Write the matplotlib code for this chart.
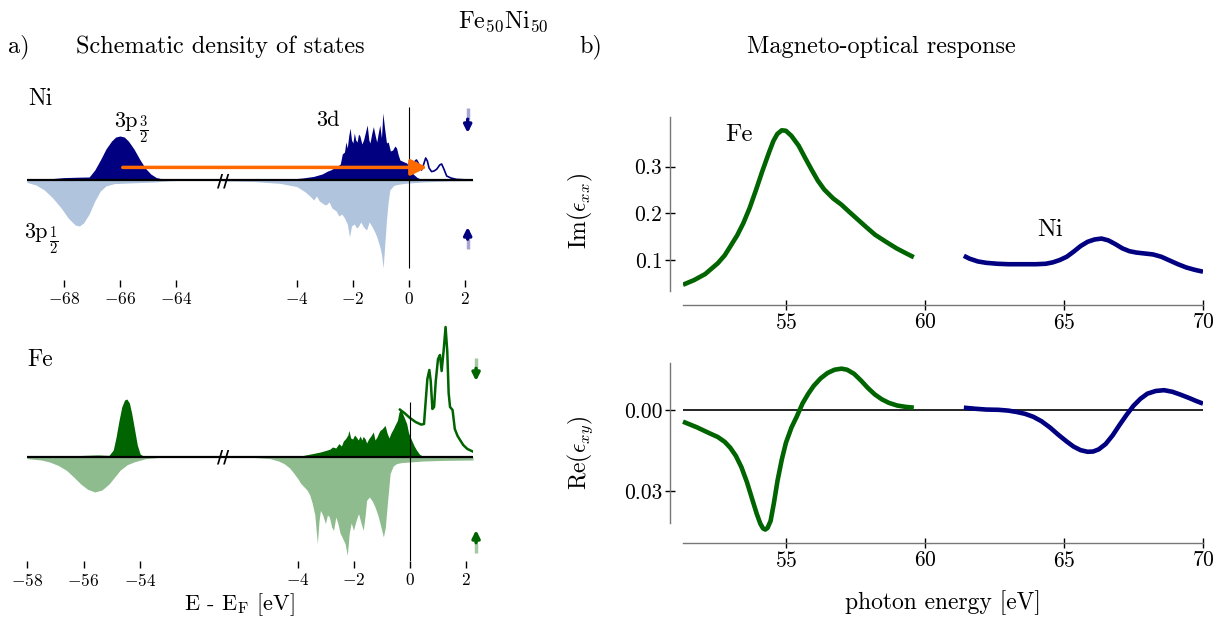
import matplotlib
matplotlib.use('Agg')
import matplotlib.pyplot as plt
from matplotlib.patches import ConnectionPatch

plt.rcParams['font.family'] = 'serif'
plt.rcParams['font.serif'] = ['cmr10']
plt.rcParams['mathtext.fontset'] = 'cm'
plt.rcParams['axes.formatter.use_mathtext'] = True

# ---- schematic DOS, Ni (core 3p and valence 3d) ----
ni_core_E_dn = [-69.32, -68.6, -68.0, -67.5, -67.1, -66.9, -66.7, -66.5, -66.3, -66.15, -66.0,
                -65.85, -65.7, -65.5, -65.3, -65.1, -64.9, -64.7, -64.4, -63.8, -62.32]
ni_core_dn = [0.0, 0.05, 0.12, 0.14, 0.15, 0.5, 1.0, 1.55, 1.95, 2.15, 2.2,
              2.15, 1.95, 1.55, 1.05, 0.6, 0.3, 0.12, 0.03, 0.0, 0.0]
ni_core_E_up = [-69.32, -69.0, -68.7, -68.4, -68.1, -67.85, -67.6, -67.45, -67.3, -67.1, -66.9,
                -66.7, -66.5, -66.2, -65.5, -64.8, -64.2, -63.5, -62.32]
ni_core_up = [-0.12, -0.25, -0.5, -0.9, -1.4, -1.9, -2.25, -2.3, -2.15, -1.7, -1.05,
              -0.55, -0.3, -0.18, -0.14, -0.1, -0.04, 0.0, 0.0]

ni_val_E_dn = [-6.64, -5.0, -4.2, -3.8, -3.4, -3.1, -2.9, -2.8, -2.7, -2.55, -2.45, -2.38, -2.3,
               -2.25, -2.2, -2.15, -2.1, -2.05, -2.0, -1.95, -1.9, -1.85, -1.8, -1.75, -1.68,
               -1.62, -1.55, -1.49, -1.43, -1.39, -1.33, -1.27, -1.2, -1.15, -1.1, -1.04, -0.98,
               -0.93, -0.87, -0.8, -0.74, -0.66, -0.58, -0.5, -0.44, -0.38, -0.32, -0.2, -0.08,
               0.05, 0.15, 0.3, 0.45, 0.7]
ni_val_dn = [0.0, 0.02, 0.05, 0.1, 0.18, 0.3, 0.45, 0.5, 0.58, 0.7, 0.8, 1.3, 1.4,
             1.9, 1.6, 2.2, 2.6, 2.0, 1.85, 2.35, 2.0, 1.9, 2.3, 2.2, 1.8,
             2.0, 2.4, 2.75, 2.0, 1.85, 2.3, 2.67, 2.2, 1.9, 2.3, 2.75, 2.1,
             3.35, 2.6, 1.85, 1.9, 1.45, 1.5, 1.7, 1.6, 1.25, 1.0, 0.92, 0.85,
             0.55, 0.3, 0.12, 0.04, 0.0]
ni_val_E_up = [-6.64, -5.5, -4.6, -4.3, -4.0, -3.7, -3.5, -3.4, -3.3, -3.2, -3.05, -2.96, -2.85,
               -2.75, -2.6, -2.5, -2.4, -2.3, -2.2, -2.12, -2.05, -1.95, -1.87, -1.81, -1.72,
               -1.62, -1.51, -1.42, -1.33, -1.22, -1.15, -1.04, -0.98, -0.92, -0.87, -0.8, -0.74,
               -0.68, -0.55, -0.44, -0.2, 0.0, 0.5, 1.5, 2.29]
ni_val_up = [-0.05, -0.08, -0.17, -0.25, -0.33, -0.6, -0.85, -1.0, -0.8, -1.05, -1.2, -1.25, -1.1,
             -1.4, -1.55, -1.8, -1.7, -1.9, -2.2, -2.85, -2.3, -2.2, -2.4, -2.33, -2.1,
             -2.35, -2.5, -2.1, -2.3, -2.6, -2.83, -3.33, -3.7, -4.4, -3.4, -2.0, -1.1,
             -0.5, -0.28, -0.23, -0.18, -0.15, -0.1, -0.05, -0.04]
ni_empty_E = [0.0, 0.1, 0.2, 0.27, 0.33, 0.4, 0.45, 0.52, 0.6, 0.66, 0.72, 0.81, 0.9, 1.0,
              1.1, 1.17, 1.25, 1.35, 1.5, 1.7, 2.0, 2.29]
ni_empty = [0.8, 0.85, 0.9, 1.0, 0.85, 0.6, 0.5, 0.75, 1.1, 0.95, 0.6, 0.42, 0.45, 0.55,
            0.75, 0.8, 0.55, 0.2, 0.1, 0.03, 0.01, 0.0]

# ---- schematic DOS, Fe ----
fe_core_E_dn = [-58.0, -57.0, -56.0, -55.5, -55.1, -54.95, -54.85, -54.75, -54.65, -54.55, -54.47,
                -54.38, -54.3, -54.2, -54.1, -54.0, -53.85, -53.0, -51.07]
fe_core_dn = [0.0, 0.03, 0.08, 0.1, 0.08, 0.35, 1.0, 1.8, 2.5, 2.85, 2.9,
              2.7, 2.2, 1.4, 0.6, 0.15, 0.02, 0.0, 0.0]
fe_core_E_up = [-58.0, -57.5, -57.2, -56.9, -56.6, -56.35, -56.1, -55.85, -55.6, -55.35, -55.1,
                -54.9, -54.7, -54.45, -54.2, -53.8, -53.3, -51.07]
fe_core_up = [-0.08, -0.15, -0.25, -0.42, -0.67, -1.0, -1.35, -1.62, -1.75, -1.65, -1.35,
              -1.0, -0.65, -0.38, -0.24, -0.08, -0.02, 0.0]

fe_val_E_dn = [-6.68, -5.0, -4.5, -3.95, -3.48, -3.2, -3.0, -2.85, -2.77, -2.65, -2.54, -2.45,
               -2.38, -2.3, -2.22, -2.18, -2.12, -2.05, -1.98, -1.92, -1.85, -1.78, -1.72, -1.67,
               -1.6, -1.55, -1.48, -1.4, -1.31, -1.25, -1.18, -1.12, -1.07, -1.0, -0.94, -0.89,
               -0.82, -0.75, -0.68, -0.6, -0.54, -0.45, -0.4, -0.36, -0.3, -0.2, -0.12, -0.05,
               0.06, 0.15, 0.24, 0.35, 0.5, 0.7, 2.25]
fe_val_dn = [0.0, 0.01, 0.02, 0.04, 0.17, 0.25, 0.33, 0.4, 0.5, 0.45, 0.67, 0.55,
             0.8, 0.92, 1.1, 1.33, 0.95, 0.9, 1.1, 1.0, 0.85, 1.05, 0.85, 1.03,
             0.9, 0.7, 0.9, 1.05, 1.25, 0.85, 1.0, 1.2, 1.33, 1.4, 1.5, 1.58,
             1.2, 0.95, 1.2, 1.4, 1.58, 1.83, 2.2, 2.37, 2.3, 1.95, 1.67, 1.2,
             0.83, 0.55, 0.33, 0.12, 0.03, 0.0, 0.0]
fe_val_E_up = [-6.68, -5.6, -5.0, -4.7, -4.5, -4.3, -4.14, -4.0, -3.9, -3.78, -3.67, -3.58,
               -3.49, -3.4, -3.31, -3.25, -3.2, -3.12, -3.02, -2.95, -2.88, -2.8, -2.73, -2.65,
               -2.58, -2.5, -2.43, -2.32, -2.24, -2.17, -2.1, -2.02, -1.93, -1.84, -1.75, -1.67,
               -1.6, -1.55, -1.45, -1.35, -1.25, -1.15, -1.07, -0.95, -0.88, -0.83, -0.76, -0.71,
               -0.6, -0.48, -0.3, -0.02, 0.5, 1.2, 2.25]
fe_val_up = [0.0, -0.02, -0.08, -0.2, -0.33, -0.55, -0.83, -1.1, -1.33, -1.5, -1.67, -1.9,
             -2.33, -2.9, -4.33, -3.2, -2.67, -2.9, -3.33, -2.9, -3.0, -3.5, -3.67, -3.0,
             -3.3, -3.8, -4.0, -4.33, -4.92, -3.8, -3.3, -3.67, -3.2, -2.83, -3.3, -3.67,
             -2.9, -2.17, -2.0, -2.2, -2.5, -2.9, -3.33, -4.0, -3.5, -2.67, -1.6, -0.83,
             -0.45, -0.33, -0.28, -0.25, -0.2, -0.17, -0.15]
fe_empty_E = [-0.36, -0.2, 0.0, 0.2, 0.4, 0.5, 0.55, 0.62, 0.69, 0.74, 0.8, 0.86, 0.92, 1.0,
              1.07, 1.13, 1.2, 1.27, 1.33, 1.38, 1.43, 1.52, 1.6, 1.7, 1.9, 2.05, 2.25]
fe_empty = [2.37, 2.2, 1.95, 1.75, 1.62, 1.65, 2.6, 3.9, 4.35, 3.8, 2.4, 2.5, 3.8, 4.9,
            5.1, 4.3, 5.3, 6.5, 5.3, 3.2, 2.5, 2.35, 1.4, 1.05, 0.6, 0.4, 0.27]

# ---- magneto-optical response ----
fe_E_im = [51.3, 51.7, 52.1, 52.55, 52.8, 53.0, 53.25, 53.47, 53.7, 53.93, 54.15, 54.39,
           54.55, 54.69, 54.85, 55.0, 55.2, 55.46, 55.7, 55.92, 56.15, 56.38, 56.7, 56.99,
           57.3, 57.6, 57.9, 58.21, 58.6, 58.98, 59.3, 59.6]
fe_im = [0.047, 0.057, 0.07, 0.093, 0.11, 0.129, 0.153, 0.179, 0.212, 0.251, 0.29, 0.330,
         0.355, 0.370, 0.378, 0.377, 0.366, 0.345, 0.318, 0.294, 0.27, 0.251, 0.232, 0.219,
         0.202, 0.186, 0.17, 0.154, 0.139, 0.125, 0.115, 0.106]
ni_E_im = [61.4, 61.6, 61.9, 62.2, 62.6, 63.0, 63.5, 64.0, 64.35, 64.6, 64.85, 65.1, 65.35,
           65.6, 65.85, 66.1, 66.35, 66.6, 66.85, 67.1, 67.35, 67.6, 67.9, 68.2, 68.5, 68.8,
           69.1, 69.4, 69.7, 70.0]
ni_im = [0.109, 0.103, 0.097, 0.094, 0.092, 0.091, 0.091, 0.091, 0.092, 0.095, 0.100, 0.107,
         0.118, 0.13, 0.139, 0.144, 0.146, 0.142, 0.134, 0.125, 0.119, 0.116, 0.114, 0.112,
         0.107, 0.099, 0.091, 0.084, 0.079, 0.075]
fe_E_re = [51.3, 51.8, 52.25, 52.55, 52.8, 53.0, 53.2, 53.4, 53.6, 53.8, 53.95, 54.08, 54.18,
           54.26, 54.34, 54.45, 54.57, 54.7, 54.85, 55.0, 55.2, 55.4, 55.6, 55.8, 56.0, 56.25,
           56.5, 56.75, 57.0, 57.2, 57.45, 57.7, 57.95, 58.2, 58.45, 58.7, 59.0, 59.3, 59.6]
fe_re = [-0.0043, -0.0064, -0.0086, -0.0100, -0.0118, -0.0140, -0.0170, -0.0212, -0.0268,
         -0.0335, -0.0385, -0.0422, -0.0440, -0.0444, -0.0438, -0.0412, -0.0345, -0.0262,
         -0.0185, -0.0122, -0.0065, -0.0022, 0.0025, 0.0060, 0.0090, 0.0118, 0.0138, 0.0150,
         0.0154, 0.0150, 0.0135, 0.0110, 0.0082, 0.0058, 0.0040, 0.0027, 0.0017, 0.0012, 0.0009]
ni_E_re = [61.4, 61.8, 62.2, 62.65, 63.0, 63.3, 63.6, 63.9, 64.2, 64.5, 64.8, 65.1, 65.35,
           65.6, 65.85, 66.05, 66.25, 66.5, 66.75, 67.0, 67.25, 67.5, 67.75, 68.0, 68.3, 68.6,
           68.9, 69.2, 69.5, 69.75, 70.0]
ni_re = [0.0009, 0.0005, 0.0002, 0.0001, -0.0002, -0.0007, -0.0014, -0.0025, -0.0042, -0.0065,
         -0.0092, -0.0117, -0.0136, -0.0149, -0.0155, -0.0154, -0.0146, -0.0126, -0.0094,
         -0.0055, -0.0018, 0.0016, 0.0042, 0.0061, 0.0071, 0.0074, 0.0068, 0.0057, 0.0045,
         0.0034, 0.0024]

ni_dark = '#000080'
ni_light = '#b0c4de'
fe_dark = '#006400'
fe_light = '#8fbc8f'
orange = '#ff6a00'

W, H = 1228, 632
fig = plt.figure(figsize=(W / 100, H / 100), dpi=100)


def rect(x0, y0, x1, y1):
    # pixel box (top-left origin) -> figure fraction
    return [x0 / W, 1 - y1 / H, (x1 - x0) / W, (y1 - y0) / H]


def ptext(x, y, s, **kw):
    # text placed by pixel position (top-left origin)
    return fig.text(x / W, 1 - y / H, s, **kw)


def dos_axes(box, xlim, ylim, ticks):
    ax = fig.add_axes(box)
    ax.set_xlim(xlim)
    ax.set_ylim(ylim)
    for s in ax.spines.values():
        s.set_visible(False)
    ax.set_yticks([])
    ax.set_xticks(ticks)
    ax.tick_params(axis='x', direction='out', length=5, width=1, labelsize=12.5, pad=3)
    ax.axhline(0, color='k', lw=1.6, zorder=4)
    return ax


# Ni rows
ax_ni_l = dos_axes(rect(27, 95, 223, 280), (-69.32, -62.32), (-5.0, 4.25), [-68, -66, -64])
ax_ni_r = dos_axes(rect(223, 95, 473, 280), (-6.64, 2.29), (-5.0, 4.25), [-4, -2, 0, 2])
ax_ni_l.fill_between(ni_core_E_dn, ni_core_dn, color=ni_dark, lw=0)
ax_ni_l.fill_between(ni_core_E_up, ni_core_up, color=ni_light, lw=0)
ax_ni_r.fill_between(ni_val_E_dn, ni_val_dn, color=ni_dark, lw=0)
ax_ni_r.fill_between(ni_val_E_up, ni_val_up, color=ni_light, lw=0)
ax_ni_r.plot(ni_empty_E, ni_empty, color=ni_dark, lw=1.2)
ax_ni_r.vlines(0, -4.4, 3.65, color='k', lw=0.8)

# Fe rows
ax_fe_l = dos_axes(rect(27, 320, 223, 561), (-58.0, -51.07), (-5.2, 6.85), [-58, -56, -54])
ax_fe_r = dos_axes(rect(223, 320, 473, 561), (-6.68, 2.25), (-5.2, 6.85), [-4, -2, 0, 2])
ax_fe_l.fill_between(fe_core_E_dn, fe_core_dn, color=fe_dark, lw=0)
ax_fe_l.fill_between(fe_core_E_up, fe_core_up, color=fe_light, lw=0)
ax_fe_r.fill_between(fe_val_E_dn, fe_val_dn, color=fe_dark, lw=0)
ax_fe_r.fill_between(fe_val_E_up, fe_val_up, color=fe_light, lw=0)
ax_fe_r.plot(fe_empty_E, fe_empty, color=fe_dark, lw=1.8)
ax_fe_r.vlines(0, -5.2, 2.75, color='k', lw=0.8)

# axis break marks
for yb in (181, 457):
    ptext(223, yb, '//', fontsize=12, fontweight='bold', family='DejaVu Sans',
          ha='center', va='center', zorder=6)

# 3p -> 3d transition arrow
con = ConnectionPatch(xyA=(-65.9, 0.63), coordsA=ax_ni_l.transData,
                      xyB=(0.65, 0.63), coordsB=ax_ni_r.transData,
                      arrowstyle='-|>', color=orange, lw=2.5, mutation_scale=24, zorder=10)
fig.add_artist(con)

# spin arrows (faded tail + solid head)
for ax, col, x, dn, up in [(ax_ni_r, ni_dark, 2.1, (3.6, 2.35), (-3.45, -2.35)),
                           (ax_fe_r, fe_dark, 2.36, (4.95, 3.8), (-4.8, -3.65))]:
    for y0, y1 in (dn, up):
        ax.plot([x, x], [y0, y0 + 0.45 * (y1 - y0)], color=col, lw=2.5, alpha=0.35,
                solid_capstyle='butt', clip_on=False)
        ax.annotate('', xy=(x, y1), xytext=(x, y0 + 0.45 * (y1 - y0)),
                    arrowprops=dict(arrowstyle='-|>', color=col, lw=2.5, mutation_scale=11,
                                    shrinkA=0, shrinkB=0), annotation_clip=False)

# labels on the DOS panel
ptext(40, 99, 'Ni', fontsize=17, ha='center', va='center')
ptext(40, 360, 'Fe', fontsize=17, ha='center', va='center')
ptext(114, 127, '3p', fontsize=16, ha='left', va='baseline')
ptext(139, 130, r'$\frac{3}{2}$', fontsize=15, ha='left', va='center')
ptext(24, 238, '3p', fontsize=16, ha='left', va='baseline')
ptext(49, 241, r'$\frac{1}{2}$', fontsize=15, ha='left', va='center')
ptext(328, 120, '3d', fontsize=16, ha='center', va='center')
ptext(239, 605, r'E - E$_\mathrm{F}$ [eV]', fontsize=16, ha='center', va='center')

# titles
ptext(503, 22, r'Fe$_{50}$Ni$_{50}$', fontsize=17.5, ha='center', va='center')
ptext(19, 47, 'a)', fontsize=17.5, ha='center', va='center')
ptext(220, 47, 'Schematic density of states', fontsize=17.5, ha='center', va='center')
ptext(591, 47, 'b)', fontsize=17.5, ha='center', va='center')
ptext(881, 47, 'Magneto-optical response', fontsize=17.5, ha='center', va='center')


def mo_axes(box, ylim, spine_lo):
    ax = fig.add_axes(box)
    ax.set_xlim(51.3, 70)
    ax.set_ylim(ylim)
    ax.spines['top'].set_visible(False)
    ax.spines['right'].set_visible(False)
    ax.spines['left'].set_position(('outward', 9.5))
    ax.spines['left'].set_bounds(spine_lo, ylim[1])
    for s in ('left', 'bottom'):
        ax.spines[s].set_color('#777777')
        ax.spines[s].set_linewidth(1)
    ax.set_xticks([55, 60, 65, 70])
    ax.tick_params(direction='inout', length=7, width=1, labelsize=15.5, pad=2)
    ax.patch.set_alpha(0)
    return ax


ax_im = mo_axes(rect(683, 117, 1203, 305), (0.0036, 0.4065), 0.0336)
ax_im.plot(fe_E_im, fe_im, color=fe_dark, lw=3.3, solid_capstyle='butt')
ax_im.plot(ni_E_im, ni_im, color=ni_dark, lw=3.3, solid_capstyle='butt')
ax_im.set_yticks([0.1, 0.2, 0.3])
ax_im.set_ylabel(r'Im($\epsilon_{xx}$)', fontsize=17)
ax_im.yaxis.set_label_coords(-0.17, 0.5)
ax_im.text(53.3, 0.368, 'Fe', fontsize=18, ha='center', va='center')
ax_im.text(64.5, 0.164, 'Ni', fontsize=18, ha='center', va='center')

ax_re = mo_axes(rect(683, 363, 1203, 543), (-0.0494, 0.0175), -0.0419)
ax_re.axhline(0, color='k', lw=1.2)
ax_re.plot(fe_E_re, fe_re, color=fe_dark, lw=3.3, solid_capstyle='butt', clip_on=False)
ax_re.plot(ni_E_re, ni_re, color=ni_dark, lw=3.3, solid_capstyle='butt')
ax_re.set_yticks([-0.03, 0.0])
ax_re.set_yticklabels(['0.03', '0.00'])
ax_re.set_ylabel(r'Re($\epsilon_{xy}$)', fontsize=17)
ax_re.yaxis.set_label_coords(-0.17, 0.5)
ax_re.set_xlabel('photon energy [eV]', fontsize=17)
ax_re.xaxis.set_label_coords(0.5, -0.26)

fig.savefig('out.png', dpi=100)
